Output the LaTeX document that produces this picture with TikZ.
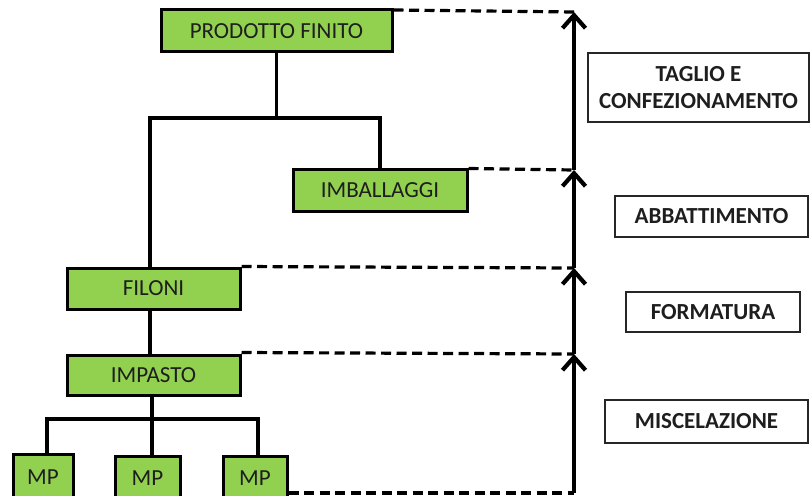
\documentclass[tikz,border=0pt]{standalone}
\usepackage{fontspec}
\setmainfont{Carlito}
\usetikzlibrary{arrows.meta}
\definecolor{boxgreen}{HTML}{92D050}
\definecolor{inktext}{HTML}{1E1E1E}
\begin{document}
\begin{tikzpicture}[x=1pt,y=-1pt,
  item/.style={draw=black,line width=3pt,fill=boxgreen,inner sep=0pt,
    font=\fontsize{23}{23}\selectfont,text=inktext},
  phase/.style={draw=black!85,line width=1.4pt,fill=white,inner sep=0pt,align=center,
    font=\bfseries\fontsize{23}{27}\selectfont,text=inktext},
  link/.style={line width=3.5pt},
  level/.style={line width=3.2pt,dash pattern=on 10pt off 5.5pt},
  rise/.style={line width=3.8pt,-{Straight Barb[length=13pt,width=23pt,line width=4.2pt]}}]
\useasboundingbox (0,0) rectangle (810,495);
\clip (0,0) rectangle (810,495);

% product tree
\node[item,minimum width=231pt,minimum height=42pt] (pf) at (276.5,31) {PRODOTTO FINITO};
\node[item,minimum width=174pt,minimum height=42pt] (imb) at (380,190) {IMBALLAGGI};
\node[item,minimum width=173pt,minimum height=41pt] (fil) at (153.5,288.5) {FILONI};
\node[item,minimum width=173pt,minimum height=40pt] (imp) at (153.5,375.5) {IMPASTO};
\node[item,minimum width=60pt,minimum height=46pt] (mp1) at (43,477) {MP};
\node[item,minimum width=65pt,minimum height=44pt] (mp2) at (147.5,478) {MP};
\node[item,minimum width=64pt,minimum height=44pt] (mp3) at (255,478) {MP};

\coordinate (j1) at (276.5,118);
\coordinate (j2) at (152,419);
\draw[link] (pf.south) -- (j1);
\draw[link] (fil.north -| 150,0) |- (j1) -| (imb.north);
\draw[link] (fil.south -| 150,0) -- (imp.north -| 150,0);
\draw[link] (imp.south -| j2) -- (j2);
\draw[link] (mp1.north -| 47,0) |- (j2) -| (mp3.north -| 258,0);
\draw[link] (j2) -- (mp2.north -| j2);

% phase levels
\coordinate (t0) at (574,12);
\coordinate (t1) at (574,170);
\coordinate (t2) at (574,268);
\coordinate (t3) at (574,354);
\coordinate (t4) at (574,493);
\draw[level] (pf.north east) ++(0,1.5) -- (t0);
\draw[level] (imb.north east) ++(0,1) -- (t1);
\draw[level] (fil.north east) -- (t2);
\draw[level] (imp.north east) ++(0,-1.5) -- (t3);
\draw[level] (mp3.east |- t4) -- (t4);
\draw[rise] (t1) -- (t0);
\draw[rise] (t2) -- (t1);
\draw[rise] (t3) -- (t2);
\draw[rise] (t4) -- (t3);

% phase names
\node[phase,minimum width=221pt,minimum height=69pt] (ph1) at (698.5,87.5) {TAGLIO E\\CONFEZIONAMENTO};
\node[phase,minimum width=193pt,minimum height=41pt] (ph2) at (711.5,216.5) {ABBATTIMENTO};
\node[phase,minimum width=174pt,minimum height=40pt] (ph3) at (713,312) {FORMATURA};
\node[phase,minimum width=203pt,minimum height=43pt] (ph4) at (706.5,421.5) {MISCELAZIONE};
\end{tikzpicture}
\end{document}
